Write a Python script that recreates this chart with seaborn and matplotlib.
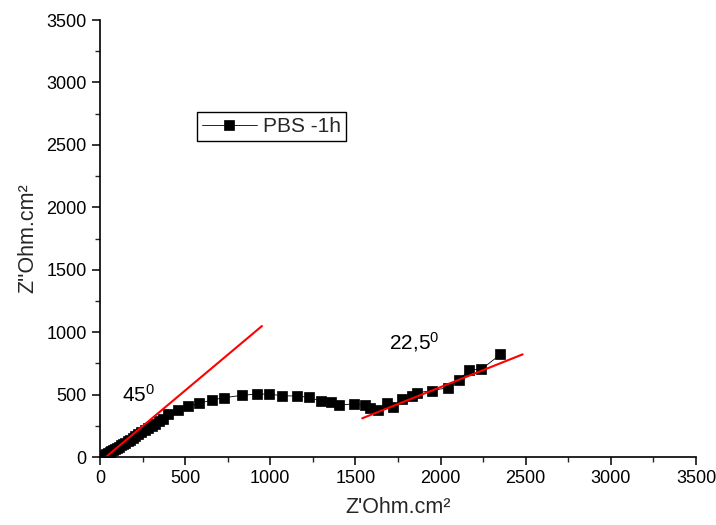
import matplotlib
matplotlib.use("Agg")
import matplotlib.pyplot as plt
from matplotlib.ticker import MultipleLocator
import seaborn as sns
import pandas as pd

# Nyquist data, PBS after 1 h immersion
z_real = [22, 30, 38, 47, 56, 66, 76, 87, 98, 110, 122, 135, 148, 162, 177,
          192, 208, 225, 243, 262, 282, 303, 325, 348, 372, 401, 460, 518,
          583, 656, 730, 832, 920, 994, 1067, 1155, 1229, 1296, 1356, 1403,
          1493, 1556, 1585, 1634, 1687, 1722, 1772, 1830, 1863, 1948, 2045,
          2106, 2169, 2240, 2351]
z_imag = [8, 16, 23, 30, 38, 46, 55, 64, 73, 83, 93, 104, 115, 127, 140,
          153, 167, 182, 197, 213, 230, 248, 267, 287, 308, 343, 376, 408,
          430, 456, 475, 494, 504, 504, 491, 488, 478, 448, 438, 414,
          427, 414, 395, 376, 430, 398, 464, 488, 515, 531, 556,
          617, 697, 703, 821]

# Slope guide lines (45° and 22.5°)
guide45_x = [19, 951]
guide45_y = [-18, 1049]
guide22_x = [1540, 2482]
guide22_y = [310, 822]

series_label = "PBS -1h"
x_title = "Z'Ohm.cm²"
y_title = "Z''Ohm.cm²"

sns.set_theme(style="ticks")
plt.rcParams["font.family"] = ["Liberation Sans", "DejaVu Sans"]
plt.rcParams["mathtext.fontset"] = "custom"
plt.rcParams["mathtext.rm"] = "Liberation Sans"
plt.rcParams["mathtext.it"] = "Liberation Sans"

fig = plt.figure(figsize=(7.16, 5.25), dpi=100)
ax = fig.add_axes([100 / 716, 68 / 525, 596 / 716, 437 / 525])

df = pd.DataFrame({"x": z_real, "y": z_imag})
sns.lineplot(data=df, x="x", y="y", sort=False, ax=ax, color="black",
             linewidth=0.6, marker="s", markersize=7, markeredgecolor="black",
             markeredgewidth=0.5, label=series_label)

g45 = pd.DataFrame({"x": guide45_x, "y": guide45_y})
g22 = pd.DataFrame({"x": guide22_x, "y": guide22_y})
sns.lineplot(data=g45, x="x", y="y", ax=ax, color="red", linewidth=1.5, sort=False)
sns.lineplot(data=g22, x="x", y="y", ax=ax, color="red", linewidth=1.5, sort=False)

ax.text(128, 440, r"$\mathregular{45^0}$", fontsize=15, color="black")
ax.text(1700, 860, r"$\mathregular{22{,}5^0}$", fontsize=15, color="black")

ax.set_xlim(0, 3500)
ax.set_ylim(0, 3500)
ax.xaxis.set_major_locator(MultipleLocator(500))
ax.yaxis.set_major_locator(MultipleLocator(500))
ax.xaxis.set_minor_locator(MultipleLocator(250))
ax.yaxis.set_minor_locator(MultipleLocator(250))
ax.tick_params(which="major", direction="out", length=6, width=1.1,
               labelsize=13, colors="black")
ax.tick_params(which="minor", direction="out", length=3.5, width=1.0)

for side in ("top", "right"):
    ax.spines[side].set_visible(False)
for side in ("left", "bottom"):
    ax.spines[side].set_color("black")
    ax.spines[side].set_linewidth(1.2)

ax.set_xlabel(x_title, fontsize=15.5, labelpad=7)
ax.set_ylabel(y_title, fontsize=15.5, labelpad=6)

handles, labels = ax.get_legend_handles_labels()
leg = ax.legend(handles[:1], labels[:1], loc="upper left",
                bbox_to_anchor=(0.163, 0.79), fontsize=15, frameon=True,
                fancybox=False, edgecolor="black", framealpha=1,
                handlelength=2.6, handletextpad=0.3, borderpad=0.25,
                borderaxespad=0)
leg.get_frame().set_linewidth(1.0)

fig.savefig("out.png", dpi=100)
